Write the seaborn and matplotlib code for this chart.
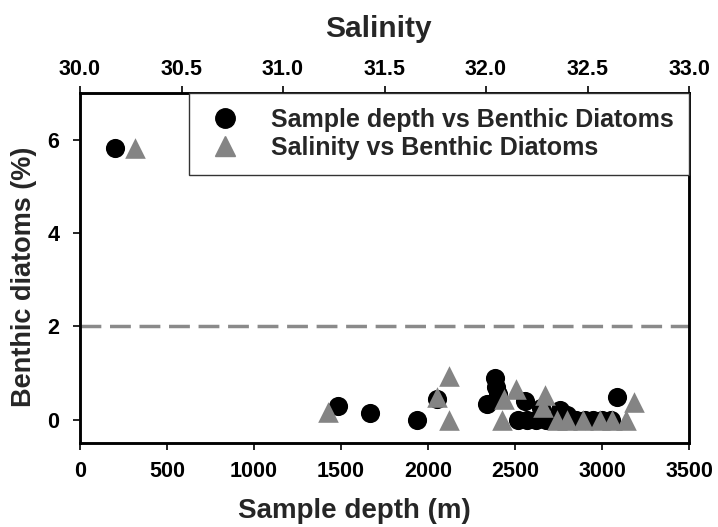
import matplotlib
matplotlib.use("Agg")
import matplotlib.pyplot as plt
import seaborn as sns
import pandas as pd
from matplotlib.lines import Line2D

# Data
depth_m = [200, 1480, 1665, 1935, 2050, 2340, 2385, 2390, 2400, 2520, 2555,
           2570, 2620, 2650, 2680, 2760, 2800, 2850, 2900, 2950, 3000, 3050, 3085]
depth_benthic = [5.83, 0.30, 0.15, 0.0, 0.45, 0.33, 0.90, 0.70, 0.55, 0.0, 0.40,
                 0.0, 0.0, 0.25, 0.0, 0.20, 0.10, 0.0, 0.0, 0.0, 0.0, 0.0, 0.48]

salinity = [30.27, 31.22, 31.76, 31.82, 31.82, 32.08, 32.09, 32.15, 32.28, 32.29,
            32.35, 32.40, 32.48, 32.56, 32.62, 32.69, 32.73]
salinity_benthic = [5.83, 0.16, 0.48, 0.93, 0.0, 0.0, 0.45, 0.66, 0.27, 0.52,
                    0.0, 0.0, 0.0, 0.0, 0.0, 0.0, 0.37]

depth_ticks = [0, 500, 1000, 1500, 2000, 2500, 3000, 3500]
salinity_ticks = [30.0, 30.5, 31.0, 31.5, 32.0, 32.5, 33.0]
y_ticks = [0, 2, 4, 6]
threshold = 2

label_depth = "Sample depth vs Benthic Diatoms"
label_sal = "Salinity vs Benthic Diatoms"

sns.set_style("ticks")
plt.rcParams["font.family"] = ["Liberation Sans", "DejaVu Sans"]
plt.rcParams["font.weight"] = "bold"

df_d = pd.DataFrame({"depth": depth_m, "benthic": depth_benthic})
df_s = pd.DataFrame({"salinity": salinity, "benthic": salinity_benthic})

fig = plt.figure(figsize=(7.18, 5.27), dpi=100)
ax = fig.add_axes([80 / 718, 1 - 443 / 527, (689 - 80) / 718, (443 - 93) / 527])

ax.axhline(threshold, color="#8a8a8a", lw=2.5, ls=(0, (6, 2.5)), zorder=1)

sns.scatterplot(data=df_d, x="depth", y="benthic", ax=ax, color="black",
                marker="o", s=190, edgecolor="black", linewidth=0, zorder=3,
                legend=False)

ax2 = ax.twiny()
sns.scatterplot(data=df_s, x="salinity", y="benthic", ax=ax2, color="#848484",
                marker="^", s=220, edgecolor="#848484", linewidth=0, zorder=3,
                legend=False)

ax.set_xlim(0, 3500)
ax.set_ylim(-0.5, 7)
ax2.set_xlim(30, 33)

ax.set_xticks(depth_ticks)
ax.set_xticklabels([str(t) for t in depth_ticks])
ax.set_yticks(y_ticks)
ax.set_yticklabels([str(t) for t in y_ticks])
ax2.set_xticks(salinity_ticks)
ax2.set_xticklabels([f"{t:.1f}" for t in salinity_ticks])

for a in (ax, ax2):
    for sp in a.spines.values():
        sp.set_linewidth(1.8)
        sp.set_color("black")
        sp.set_visible(True)
    a.tick_params(direction="out", length=5, width=1.2, labelsize=15.5,
                  colors="black", pad=6)
    for lab in a.get_xticklabels() + a.get_yticklabels():
        lab.set_fontweight("bold")

ax.tick_params(axis="x", pad=8)
ax.tick_params(axis="y", pad=10)
ax2.tick_params(axis="x", pad=4)

ax.set_xlabel("Sample depth (m)", fontsize=20, fontweight="bold")
ax.xaxis.set_label_coords(0.45, -0.157)
ax.set_ylabel("Benthic diatoms (%)", fontsize=19.5, fontweight="bold")
ax.yaxis.set_label_coords(-0.071, 0.474)
ax2.set_xlabel("Salinity", fontsize=21.5, fontweight="bold")
ax2.xaxis.set_label_coords(0.49, 1.159)

handles = [
    Line2D([], [], marker="o", color="black", ls="none", markersize=14),
    Line2D([], [], marker="^", color="#848484", ls="none", markersize=14),
]
leg = ax2.legend(handles, [label_depth, label_sal], loc="upper right",
                 bbox_to_anchor=(1.0, 1.0), borderaxespad=0, frameon=True,
                 fancybox=False, framealpha=1, edgecolor="#333333",
                 prop={"size": 18, "weight": "bold"}, borderpad=0.6,
                 handletextpad=1.0, labelspacing=0.15, handlelength=1.7)
leg.get_frame().set_linewidth(1.0)

fig.savefig("out.png", dpi=100)
